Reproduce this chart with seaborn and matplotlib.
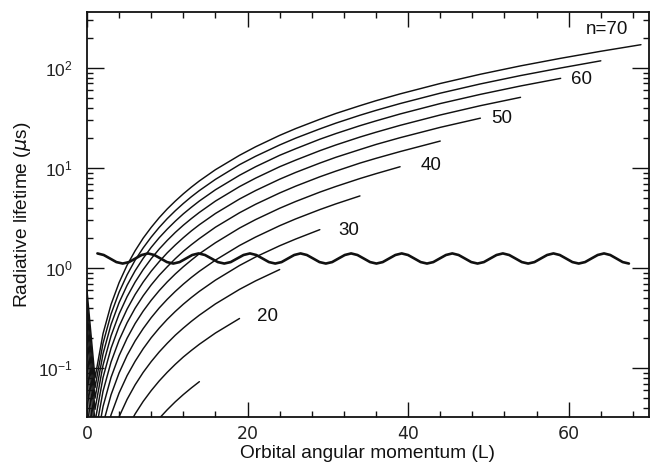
import numpy as np
import pandas as pd
import matplotlib
matplotlib.use("Agg")
import matplotlib.pyplot as plt
import seaborn as sns
from matplotlib.ticker import MultipleLocator, LogLocator, NullFormatter

# ---------------- data ----------------
L_grid = [0, 1, 2, 3, 4, 5, 6, 7, 8, 9, 10, 11, 12, 13, 14, 16, 19, 21, 24, 26, 29, 31,
          34, 36, 39, 44, 49, 54, 59, 64, 69]

tau_n15 = [0.006, 7.8e-4, 2.17e-3, 4.26e-3, 7.04e-3, 0.0105, 0.0147, 0.0196, 0.0251, 0.0314,
           0.0383, 0.0460, 0.0543, 0.0633, 0.0731]
tau_n20 = [0.014, 1.85e-3, 5.15e-3, 0.0101, 0.0167, 0.0249, 0.0348, 0.0464, 0.0595, 0.0744,
           0.0908, 0.109, 0.129, 0.150, 0.173, 0.224, 0.313]
tau_n25 = [0.028, 3.62e-3, 0.0101, 0.0197, 0.0326, 0.0487, 0.0680, 0.0905, 0.116, 0.145,
           0.177, 0.213, 0.251, 0.293, 0.338, 0.438, 0.612, 0.744, 0.966]
tau_n30 = [0.047, 6.26e-3, 0.0174, 0.0341, 0.0563, 0.0841, 0.117, 0.156, 0.201, 0.251,
           0.307, 0.368, 0.435, 0.507, 0.585, 0.757, 1.06, 1.29, 1.67, 1.95, 2.42]
tau_n35 = [0.075, 9.94e-3, 0.0276, 0.0541, 0.0894, 0.134, 0.187, 0.248, 0.319, 0.399,
           0.487, 0.584, 0.690, 0.805, 0.928, 1.20, 1.68, 2.04, 2.65, 3.10, 3.84, 4.38, 5.26]
tau_n40 = [0.11, 0.0148, 0.0412, 0.0808, 0.133, 0.199, 0.279, 0.371, 0.476, 0.595,
           0.727, 0.872, 1.03, 1.20, 1.39, 1.79, 2.51, 3.05, 3.96, 4.63, 5.74, 6.54,
           7.85, 8.78, 10.3]
tau_n45 = [0.16, 0.0211, 0.0587, 0.115, 0.190, 0.284, 0.397, 0.528, 0.678, 0.847,
           1.03, 1.24, 1.47, 1.71, 1.97, 2.56, 3.57, 4.34, 5.63, 6.59, 8.17, 9.31,
           11.2, 12.5, 14.6, 18.6]
tau_n50 = [0.22, 0.029, 0.0805, 0.158, 0.261, 0.389, 0.544, 0.724, 0.930, 1.16,
           1.42, 1.70, 2.01, 2.35, 2.71, 3.51, 4.90, 5.95, 7.73, 9.04, 11.2, 12.8,
           15.3, 17.2, 20.1, 25.5, 31.5]
tau_n55 = [0.29, 0.0386, 0.107, 0.210, 0.347, 0.518, 0.724, 0.964, 1.24, 1.55,
           1.89, 2.27, 2.68, 3.12, 3.60, 4.67, 6.52, 7.92, 10.3, 12.0, 14.9, 17.0,
           20.4, 22.8, 26.7, 33.9, 42.0, 50.9]
tau_n60 = [0.38, 0.050, 0.139, 0.273, 0.451, 0.673, 0.940, 1.25, 1.61, 2.01,
           2.45, 2.94, 3.48, 4.05, 4.68, 6.06, 8.46, 10.3, 13.4, 15.6, 19.4, 22.1,
           26.5, 29.6, 34.7, 44.1, 54.5, 66.1, 78.8]
tau_n65 = [0.48, 0.0636, 0.177, 0.347, 0.573, 0.856, 1.20, 1.59, 2.04, 2.55,
           3.12, 3.74, 4.42, 5.16, 5.95, 7.70, 10.8, 13.1, 17.0, 19.9, 24.6, 28.1,
           33.7, 37.7, 44.1, 56.0, 69.3, 84.0, 100.0, 118.0]
tau_n70 = [0.60, 0.0795, 0.221, 0.433, 0.715, 1.07, 1.49, 1.99, 2.55, 3.19,
           3.90, 4.67, 5.52, 6.44, 7.43, 9.62, 13.4, 16.3, 21.2, 24.8, 30.7, 35.1,
           42.0, 47.1, 55.1, 70.0, 86.6, 105.0, 125.0, 147.0, 171.0]

n_values = [15, 20, 25, 30, 35, 40, 45, 50, 55, 60, 65, 70]
tau_series = [tau_n15, tau_n20, tau_n25, tau_n30, tau_n35, tau_n40,
              tau_n45, tau_n50, tau_n55, tau_n60, tau_n65, tau_n70]

# wavy reference line (~1.1-1.4 us): crest positions and one-period profile
wave_peaks = [1.3, 7.6, 13.9, 20.3, 26.6, 32.9, 39.2, 45.5, 51.8, 58.1, 64.4]
wave_end = 67.5
wave_profile = [1.40, 1.35, 1.245, 1.147, 1.109, 1.147, 1.245, 1.35]

curve_labels = ["n=70", "60", "50", "40", "30", "20"]
label_L = [64.8, 61.6, 51.7, 42.8, 32.6, 22.5]
label_tau = [240, 76, 31, 10.5, 2.4, 0.33]

# ---------------- build tables ----------------
rows = []
for n, vals in zip(n_values, tau_series):
    for L, t in zip(L_grid, vals):
        rows.append({"L": L, "tau": t, "n": n})
df = pd.DataFrame(rows)

wx, wy = [], []
for i, p in enumerate(wave_peaks):
    q = wave_peaks[i + 1] if i + 1 < len(wave_peaks) else p + 2 * (wave_end - p)
    step = (q - p) / len(wave_profile)
    kmax = len(wave_profile) if i + 1 < len(wave_peaks) else len(wave_profile) // 2 + 1
    for k in range(kmax):
        wx.append(p + k * step)
        wy.append(wave_profile[k % len(wave_profile)])
df_wave = pd.DataFrame({"L": wx, "tau": wy})

# ---------------- plot ----------------
sns.set_style("ticks")
plt.rcParams["font.family"] = ["Liberation Sans", "DejaVu Sans"]
plt.rcParams["mathtext.fontset"] = "dejavusans"

fig = plt.figure(figsize=(6.51, 4.65), dpi=100)
ax = fig.add_axes([0.1336, 0.1032, 0.8633, 0.871])
ax.set_yscale("log")

sns.lineplot(data=df, x="L", y="tau", units="n", estimator=None, sort=False,
             color="#111111", lw=1.05, ax=ax, legend=False)
sns.lineplot(data=df_wave, x="L", y="tau", estimator=None, sort=False,
             color="#111111", lw=1.9, ax=ax, legend=False)

for txt, lx, ly in zip(curve_labels, label_L, label_tau):
    ax.text(lx, ly, txt, ha="center", va="center", fontsize=13.5, color="#111111")

ax.set_xlim(0, 70)
ax.set_ylim(0.0324, 363)
ax.xaxis.set_major_locator(MultipleLocator(20))
ax.xaxis.set_minor_locator(MultipleLocator(4))
ax.yaxis.set_major_locator(LogLocator(base=10))
ax.yaxis.set_minor_locator(LogLocator(base=10, subs=np.arange(2, 10)))
ax.yaxis.set_minor_formatter(NullFormatter())

ax.tick_params(which="both", direction="in", top=True, right=True, width=1.0, color="#111111")
ax.tick_params(axis="x", which="major", length=10.5, pad=6, labelsize=12.5, labelcolor="#222222")
ax.tick_params(axis="x", which="minor", length=4)
ax.tick_params(axis="y", which="major", length=12.5, pad=10, labelsize=12.5, labelcolor="#222222")
ax.tick_params(axis="y", which="minor", length=4.5)
for lab in ax.get_xticklabels():
    lab.set_family("DejaVu Sans")

for sp in ax.spines.values():
    sp.set_linewidth(1.3)
    sp.set_color("#111111")

ax.set_xlabel("Orbital angular momentum (L)", fontsize=13.8, color="#111111")
ax.set_ylabel(r"Radiative lifetime ($\mu$s)", fontsize=13.8, color="#111111")
ax.xaxis.set_label_coords(0.5, -0.068)
ax.yaxis.set_label_coords(-0.096, 0.5)

fig.savefig("out.png", dpi=100)
